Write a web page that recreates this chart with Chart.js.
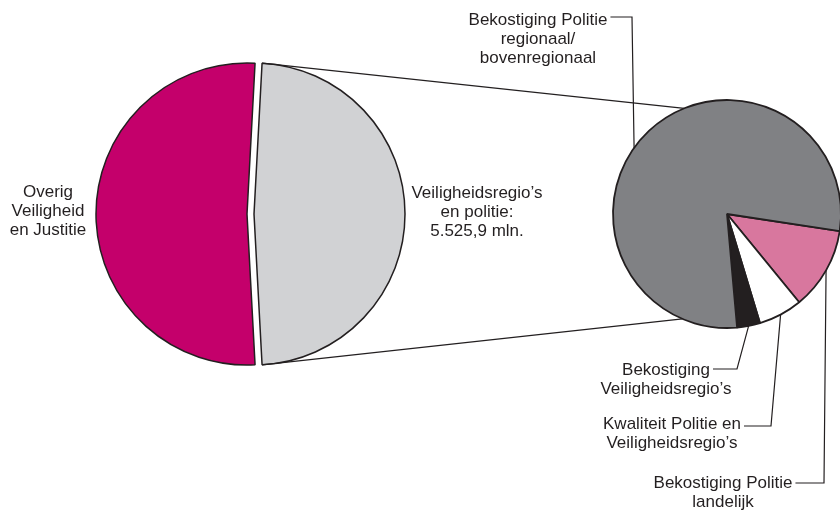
<!DOCTYPE html>
<html>
<head>
<meta charset="utf-8">
<script src="https://cdn.jsdelivr.net/npm/chart.js@4/dist/chart.umd.min.js"></script>
<style>
  html, body { margin: 0; padding: 0; width: 840px; height: 512px; overflow: hidden; background: #fff; }
  canvas { position: absolute; left: 0; top: 0; }
</style>
</head>
<body>
<canvas id="overview" width="880" height="512"></canvas>
<canvas id="detail" width="880" height="512"></canvas>
<script>
// bedragen in mln. euro
const mainLabels = ["Veiligheidsregio’s en politie", "Overig Veiligheid en Justitie"];
const mainValues = [5525.9, 5915.0];
const mainText = [["Veiligheidsregio’s", "en politie:", "5.525,9 mln."], ["Overig", "Veiligheid", "en Justitie"]];

const detailLabels = [
  "Bekostiging Politie landelijk",
  "Kwaliteit Politie en Veiligheidsregio’s",
  "Bekostiging Veiligheidsregio’s",
  "Bekostiging Politie regionaal/bovenregionaal"
];
const detailValues = [646.5, 345.0, 180.0, 4354.4];
const detailText = [
  ["Bekostiging Politie", "landelijk"],
  ["Kwaliteit Politie en", "Veiligheidsregio’s"],
  ["Bekostiging", "Veiligheidsregio’s"],
  ["Bekostiging Politie", "regionaal/", "bovenregionaal"]
];

const ink = "#231f20";
const font = '17px "Liberation Sans", Arial, sans-serif';
const lineGap = 19;

// label placement
const mainPos = [{ x: 477, y: 198 }, { x: 48, y: 197 }];
const detailPos = [
  { x: 723, y: 488, lineY: 483, elbowX: 824, at: 0.5 },
  { x: 672, y: 429, lineY: 426, elbowX: 771, at: 0.5 },
  { x: 666, y: 375, lineY: 369, elbowX: 737, at: 0.5 },
  { x: 538, y: 25, lineY: 17, elbowX: 632, at: 0.46 }
];

// pull the first slice out along its middle
const explode = {
  id: "explode",
  afterDatasetUpdate(chart, args, opts) {
    const arc = chart.getDatasetMeta(args.index).data[0];
    const mid = (arc.startAngle + arc.endAngle) / 2;
    arc.x += Math.cos(mid) * opts.distance;
    arc.y += Math.sin(mid) * opts.distance;
  }
};

const share = mainValues[0] / (mainValues[0] + mainValues[1]);

const overview = new Chart(document.getElementById("overview"), {
  type: "pie",
  data: {
    labels: mainLabels,
    datasets: [{
      data: mainValues,
      backgroundColor: ["#d1d2d4", "#c4006b"],
      borderColor: ink,
      borderWidth: 1.5
    }]
  },
  options: {
    responsive: false,
    animation: false,
    events: [],
    radius: 151,
    rotation: 90 - share * 180,
    layout: { padding: { left: 0, right: 386, top: 0, bottom: 84 } },
    plugins: {
      legend: { display: false },
      tooltip: { enabled: false },
      explode: { distance: 7 }
    }
  },
  plugins: [explode]
});

const callouts = {
  id: "callouts",
  afterDraw(chart) {
    const ctx = chart.ctx;
    const big = overview.getDatasetMeta(0).data[0];
    const arcs = chart.getDatasetMeta(0).data;
    const cx = arcs[0].x, cy = arcs[0].y, r = arcs[0].outerRadius;
    const R = big.outerRadius;
    const rad = (d) => d * Math.PI / 180;

    ctx.save();
    ctx.strokeStyle = ink;
    ctx.lineWidth = 1.2;

    // lines from the pulled-out slice to the detail pie
    ctx.beginPath();
    ctx.moveTo(big.x + R * Math.cos(big.startAngle), big.y + R * Math.sin(big.startAngle));
    ctx.lineTo(cx + r * Math.cos(rad(-112)), cy + r * Math.sin(rad(-112)));
    ctx.moveTo(big.x + R * Math.cos(big.endAngle), big.y + R * Math.sin(big.endAngle));
    ctx.lineTo(cx + r * Math.cos(rad(113)), cy + r * Math.sin(rad(113)));
    ctx.stroke();

    ctx.font = font;
    ctx.fillStyle = ink;
    ctx.textAlign = "center";
    ctx.textBaseline = "alphabetic";

    mainText.forEach((lines, i) => {
      lines.forEach((t, j) => ctx.fillText(t, mainPos[i].x, mainPos[i].y + j * lineGap));
    });

    detailText.forEach((lines, i) => {
      const p = detailPos[i];
      lines.forEach((t, j) => ctx.fillText(t, p.x, p.y + j * lineGap));
      const a = arcs[i];
      const ang = a.startAngle + (a.endAngle - a.startAngle) * p.at;
      const startX = p.x + ctx.measureText(lines[0]).width / 2 + 3;
      ctx.beginPath();
      ctx.moveTo(startX, p.lineY);
      ctx.lineTo(p.elbowX, p.lineY);
      ctx.lineTo(cx + r * Math.cos(ang), cy + r * Math.sin(ang));
      ctx.stroke();
    });
    ctx.restore();
  }
};

new Chart(document.getElementById("detail"), {
  type: "pie",
  data: {
    labels: detailLabels,
    datasets: [{
      data: detailValues,
      backgroundColor: ["#d8779e", "#ffffff", ink, "#808184"],
      borderColor: ink,
      borderWidth: 1.8
    }]
  },
  options: {
    responsive: false,
    animation: false,
    events: [],
    radius: 114,
    rotation: 98.6,
    layout: { padding: { left: 574, right: 0, top: 0, bottom: 84 } },
    plugins: {
      legend: { display: false },
      tooltip: { enabled: false }
    }
  },
  plugins: [callouts]
});
</script>
</body>
</html>
